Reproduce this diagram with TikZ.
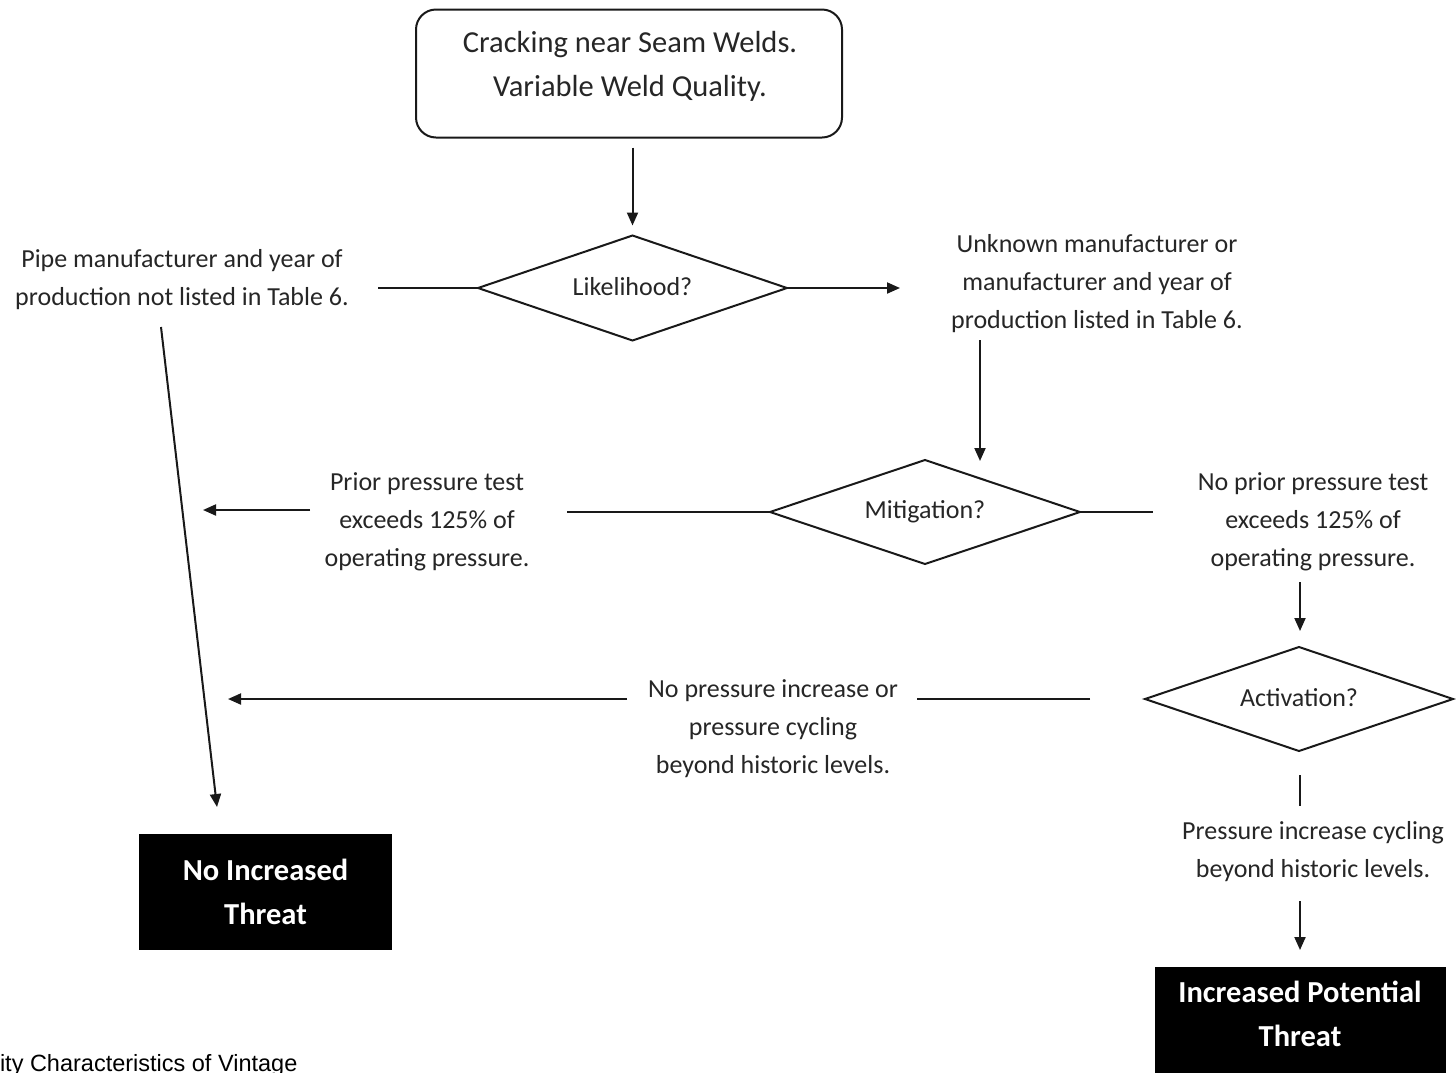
\documentclass[tikz,border=0pt]{standalone}
\usepackage{fontspec}
\setmainfont{Carlito}
\newfontfamily\arialfont{Liberation Sans}
\usetikzlibrary{shapes.geometric,arrows.meta}
\begin{document}
\begin{tikzpicture}[x=1pt,y=-1pt,
  every node/.style={inner sep=0pt, outer sep=0pt, text=black!85},
  lbl/.style={align=center, font=\fontsize{26}{38}\selectfont},
  ln/.style={draw=black!90, line width=2pt},
  arr/.style={ln, -{Triangle[length=13pt,width=11pt]}},
  dec/.style={draw=black!90, line width=2pt, diamond, aspect=3, minimum width=309pt, minimum height=105pt, font=\fontsize{26}{30}\selectfont},
  endbox/.style={fill=black, text=white, align=center, font=\fontsize{30.5}{44}\selectfont\bfseries}
]
\useasboundingbox (0,0) rectangle (1456,1072);
\clip (0,0) rectangle (1456,1072);
\fill[white] (0,0) rectangle (1456,1072);

% top box
\node[draw=black!90, line width=2pt, rounded corners=20pt, minimum width=426pt, minimum height=128pt] (top) at (629,73.5) {};
\node[align=center, font=\fontsize{30.5}{44}\selectfont] (toptxt) at (630,66) {Cracking near Seam Welds.\\Variable Weld Quality.};

% diamonds
\node[dec] (lik) at (632.5,288) {\raisebox{4pt}{Likelihood?}};
\node[dec, minimum width=310pt, minimum height=104pt] (mit) at (925,512) {\raisebox{4pt}{Mitigation?}};
\node[dec, minimum width=308pt, minimum height=104pt] (act) at (1299,699) {\raisebox{3pt}{Activation?}};

% labels
\node[lbl] (L1) at (182,280) {Pipe manufacturer and year of\\production not listed in Table 6.};
\node[lbl] (R1) at (1097,284) {Unknown manufacturer or\\manufacturer and year of\\production listed in Table 6.};
\node[lbl] (P1) at (427,522) {Prior pressure test\\exceeds 125\% of\\operating pressure.};
\node[lbl] (P2) at (1313,522) {No prior pressure test\\exceeds 125\% of\\operating pressure.};
\node[lbl] (N1) at (773,729) {No pressure increase or\\pressure cycling\\beyond historic levels.};
\node[lbl] (A1) at (1313,852) {Pressure increase cycling\\beyond historic levels.};

% end boxes
\node[endbox, minimum width=253pt, minimum height=116pt] (nit) at (265.5,892) {No Increased\\Threat};
\node[fill=black, minimum width=291pt, minimum height=140pt] (ipt) at (1300.5,1037) {};
\node[align=center, text=white, font=\fontsize{30.5}{44}\selectfont\bfseries] (ipttxt) at (1300,1014) {Increased Potential\\Threat};

% coordinates for free ends
\coordinate (a1) at (378,288);
\coordinate (ra) at (900,288);
\coordinate (rb) at (980,340);
\coordinate (rc) at (980,461);
\coordinate (ml) at (567,512);
\coordinate (mr) at (1153,512);
\coordinate (pa) at (310,510);
\coordinate (pb) at (203,510);
\coordinate (qa) at (1300,582);
\coordinate (qb) at (1300,631);
\coordinate (na) at (1090,699);
\coordinate (nb) at (917,699);
\coordinate (nc) at (627,699);
\coordinate (nd) at (228,699);
\coordinate (da) at (161,327);
\coordinate (db) at (217,807);
\coordinate (va) at (1300,775);
\coordinate (vb) at (1300,806);
\coordinate (vc) at (1300,901);
\coordinate (vd) at (1300,950);

% connectors
\draw[arr, shorten <=10pt, shorten >=10pt] (lik.north |- top.south) -- (lik.north);
\draw[ln] (a1) -- (lik.west);
\draw[arr] (lik.east) -- (ra);
\draw[arr] (rb) -- (rc);
\draw[ln] (ml) -- (mit.west);
\draw[ln] (mit.east) -- (mr);
\draw[arr] (pa) -- (pb);
\draw[arr] (qa) -- (qb);
\draw[ln] (na) -- (nb);
\draw[arr] (nc) -- (nd);
\draw[arr] (da) -- (db);
\draw[ln] (va) -- (vb);
\draw[arr] (vc) -- (vd);

% cut-off caption
\node[anchor=base west, font=\arialfont\fontsize{23.5}{26}\selectfont, text=black] (cap) at (0,1071.5) {ity Characteristics of Vintage};
\end{tikzpicture}
\end{document}
